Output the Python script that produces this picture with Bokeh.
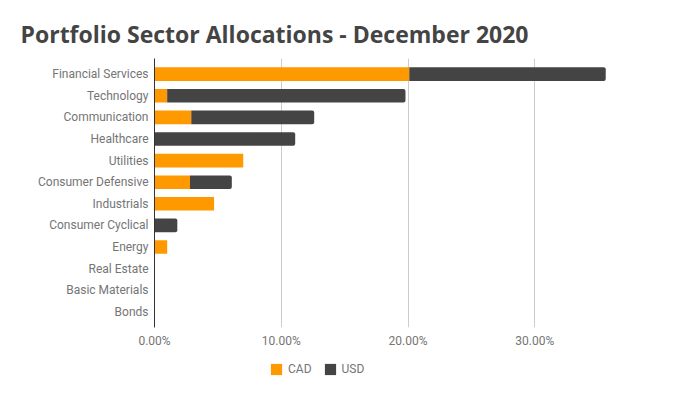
from bokeh.plotting import figure
from bokeh.layouts import column
from bokeh.models import Range1d, FixedTicker, Legend, LegendItem, ColumnDataSource
from bokeh.embed import file_html
from bokeh.resources import INLINE

categories = ["Financial Services", "Technology", "Communication", "Healthcare",
              "Utilities", "Consumer Defensive", "Industrials", "Consumer Cyclical",
              "Energy", "Real Estate", "Basic Materials", "Bonds"]
cad = [20.1, 1.0, 2.9, 0.0, 7.0, 2.8, 4.7, 0.0, 1.0, 0.0, 0.0, 0.0]
usd = [15.5, 18.8, 9.7, 11.1, 0.0, 3.3, 0.0, 1.8, 0.0, 0.0, 0.0, 0.0]
x_ticks = [0, 10, 20, 30, 40]
x_tick_labels = ["0.00%", "10.00%", "20.00%", "30.00%", ""]
series_names = ["CAD", "USD"]
colors = ["#ff9900", "#444444"]

pos = list(range(len(categories)))
src = ColumnDataSource(dict(
    y=pos,
    cad_l=[0.0] * len(cad),
    cad_r=cad,
    usd_l=cad,
    usd_r=[c + u for c, u in zip(cad, usd)],
))

p = figure(width=665, height=352, output_backend="svg", toolbar_location=None,
           x_range=Range1d(0, 40), y_range=Range1d(11.72, -0.72),
           min_border_left=154, min_border_right=4, min_border_top=58, min_border_bottom=25)
p.outline_line_color = None

r1 = p.hbar(y="y", left="cad_l", right="cad_r", height=0.63, fill_color=colors[0],
            line_color=None, source=src)
r2 = p.hbar(y="y", left="usd_l", right="usd_r", height=0.63, fill_color=colors[1],
            line_color=None, source=src, border_radius=(0, 2, 2, 0))

p.title.text = "Portfolio Sector Allocations - December 2020"
p.title.text_font = "Open Sans"
p.title.text_font_size = "23px"
p.title.text_font_style = "bold"
p.title.text_color = "#444444"
p.title.offset = -134
p.title.standoff = 17

p.xaxis.ticker = FixedTicker(ticks=x_ticks)
p.xaxis.major_label_overrides = {t: l for t, l in zip(x_ticks, x_tick_labels)}
p.xaxis.axis_line_color = None
p.xaxis.major_tick_line_color = None
p.xaxis.minor_tick_line_color = None
p.xaxis.major_tick_out = 0
p.xaxis.major_tick_in = 0
p.xaxis.major_label_text_font = "Roboto"
p.xaxis.major_label_text_font_size = "12px"
p.xaxis.major_label_text_color = "#757575"
p.xaxis.major_label_standoff = 6

p.yaxis.ticker = FixedTicker(ticks=pos)
p.yaxis.major_label_overrides = {i: c for i, c in zip(pos, categories)}
p.yaxis.axis_line_color = "#333333"
p.yaxis.major_tick_line_color = None
p.yaxis.minor_tick_line_color = None
p.yaxis.major_tick_out = 0
p.yaxis.major_tick_in = 0
p.yaxis.major_label_text_font = "Roboto"
p.yaxis.major_label_text_font_size = "12px"
p.yaxis.major_label_text_color = "#757575"
p.yaxis.major_label_standoff = 6

p.xgrid.ticker = FixedTicker(ticks=x_ticks[1:])
p.xgrid.grid_line_color = "#cccccc"
p.ygrid.grid_line_color = None

# legend strip below the chart (its swatch renderers sit outside its visible range)
lg = figure(width=665, height=27, output_backend="svg", toolbar_location=None,
            x_axis_type=None, y_axis_type=None, min_border=0,
            x_range=Range1d(0, 1), y_range=Range1d(100, 101))
lg.outline_line_color = None
lg.grid.grid_line_color = None
l1 = lg.hbar(y="y", left="cad_l", right="cad_r", height=0.63, fill_color=colors[0],
             line_color=None, source=src)
l2 = lg.hbar(y="y", left="usd_l", right="usd_r", height=0.63, fill_color=colors[1],
             line_color=None, source=src)
legend = Legend(items=[LegendItem(label=series_names[0], renderers=[l1]),
                       LegendItem(label=series_names[1], renderers=[l2])],
                orientation="horizontal", location=(115, 3))
legend.border_line_color = None
legend.background_fill_alpha = 0
legend.label_text_font = "Roboto"
legend.label_text_font_size = "12px"
legend.label_text_color = "#757575"
legend.glyph_width = 14
legend.glyph_height = 14
legend.spacing = 11
legend.label_standoff = 5
legend.margin = 0
legend.padding = 0
lg.add_layout(legend, "center")

layout = column(p, lg, spacing=0)
open("out.html", "w").write(file_html(layout, INLINE))
